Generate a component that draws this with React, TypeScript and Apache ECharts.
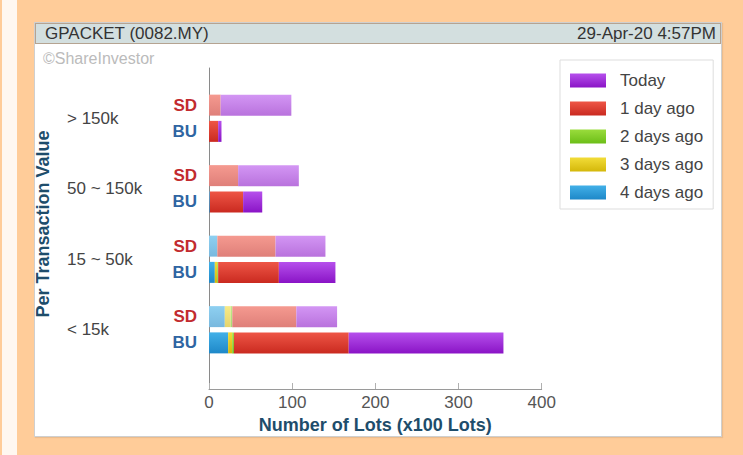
import React, { useEffect, useRef } from "react";
import * as echarts from "echarts";

const categories = ["> 150k", "50 ~ 150k", "15 ~ 50k", "< 15k"];
const legendNames = ["Today", "1 day ago", "2 days ago", "3 days ago", "4 days ago"];

// SD (sell down) values, x100 lots
const sdToday = [85, 73, 60, 49];
const sd1Day = [14, 35, 70, 77];
const sd2Days = [0, 0, 0, 2];
const sd3Days = [0, 0, 0, 7];
const sd4Days = [0, 0, 10, 19];

// BU (buy up) values, x100 lots
const buToday = [4, 23, 68, 186];
const bu1Day = [11, 40, 73, 138];
const bu2Days = [0, 0, 1, 2];
const bu3Days = [0, 0, 3, 5];
const bu4Days = [0, 1, 7, 23];

const xTicks = { min: 0, max: 400, interval: 100 };

const FONT = "'Liberation Sans', Arial, Helvetica, sans-serif";

const buPalette: Record<string, [string, string]> = {
  "Today": ["#B650EC", "#8A14C6"],
  "1 day ago": ["#EE5646", "#CA2A20"],
  "2 days ago": ["#9ADC3C", "#6CBE18"],
  "3 days ago": ["#F2DC38", "#D4B80A"],
  "4 days ago": ["#42B0E8", "#1E88C8"],
};

const sdPalette: Record<string, [string, string]> = {
  "Today": ["#D396F4", "#B972DD"],
  "1 day ago": ["#F59A90", "#DF7F79"],
  "2 days ago": ["#C2EA8A", "#A7D874"],
  "3 days ago": ["#F7EA88", "#E5D46C"],
  "4 days ago": ["#8ED0F1", "#78B8DE"],
};

function grad(pal: Record<string, [string, string]>, name: string) {
  const [a, b] = pal[name];
  return new echarts.graphic.LinearGradient(0, 0, 0, 1, [
    { offset: 0, color: a },
    { offset: 1, color: b },
  ]);
}

export default function App() {
  const ref = useRef<HTMLDivElement>(null);
  useEffect(() => {
    if (!ref.current) return;
    const chart = echarts.init(ref.current, null, { renderer: "svg" });

    const mk = (
      stack: string,
      name: string,
      data: number[],
      pal: Record<string, [string, string]>,
      label?: { text: string; color: string }
    ) => ({
      type: "bar",
      name,
      stack,
      data,
      xAxisIndex: 0,
      yAxisIndex: 0,
      barWidth: 21,
      barGap: "25%",
      itemStyle: { color: grad(pal, name) },
      label: label
        ? {
            show: true,
            position: "left",
            distance: 12,
            formatter: label.text,
            color: label.color,
            fontWeight: "bold",
            fontSize: 17,
            fontFamily: FONT,
          }
        : { show: false },
      emphasis: { disabled: true },
    });

    const sdLabel = { text: "SD", color: "#C22B2F" };
    const buLabel = { text: "BU", color: "#2F65A2" };

    const series = [
      mk("SD", "4 days ago", sd4Days, sdPalette, sdLabel),
      mk("SD", "3 days ago", sd3Days, sdPalette),
      mk("SD", "2 days ago", sd2Days, sdPalette),
      mk("SD", "1 day ago", sd1Day, sdPalette),
      mk("SD", "Today", sdToday, sdPalette),
      mk("BU", "4 days ago", bu4Days, buPalette, buLabel),
      mk("BU", "3 days ago", bu3Days, buPalette),
      mk("BU", "2 days ago", bu2Days, buPalette),
      mk("BU", "1 day ago", bu1Day, buPalette),
      mk("BU", "Today", buToday, buPalette),
    ];

    const option: any = {
      animation: false,
      textStyle: { fontFamily: FONT },
      graphic: [
        {
          type: "text",
          left: 45,
          top: 25,
          style: { text: "GPACKET (0082.MY)", fill: "#333", font: `17px ${FONT}` },
        },
        {
          type: "text",
          right: 27,
          top: 25,
          style: { text: "29-Apr-20 4:57PM", fill: "#333", font: `17px ${FONT}`, textAlign: "right" },
        },
        {
          type: "text",
          left: 43,
          top: 50,
          style: { text: "©ShareInvestor", fill: "#BBBBBB", font: `16px ${FONT}` },
        },
      ],
      legend: {
        left: 560,
        top: 60,
        orient: "vertical",
        backgroundColor: "#ffffff",
        borderColor: "#DDDDDD",
        borderWidth: 1,
        padding: [12, 10, 8, 10],
        itemWidth: 36,
        itemHeight: 14,
        itemGap: 11,
        icon: "rect",
        selectedMode: false,
        textStyle: { fontSize: 17, color: "#444", fontFamily: FONT, padding: [0, 0, 0, 9] },
        data: legendNames.map((n) => ({ name: n, itemStyle: { color: grad(buPalette, n) } })),
      },
      grid: [
        { left: 209, top: 83, bottom: 90, width: 332.7, containLabel: false },
        { left: 209, top: 68, bottom: 66, width: 332.7, containLabel: false },
      ],
      xAxis: [
        {
          type: "value",
          gridIndex: 0,
          min: xTicks.min,
          max: xTicks.max,
          interval: xTicks.interval,
          offset: 24,
          axisLine: { show: true, lineStyle: { color: "#9A9A9A", width: 1 } },
          axisTick: { show: true, inside: true, length: 6, lineStyle: { color: "#B0B0B0" } },
          splitLine: { show: false },
          axisLabel: { color: "#555", fontSize: 17, margin: 5, fontFamily: FONT },
          name: "Number of Lots (x100 Lots)",
          nameLocation: "middle",
          nameGap: 27,
          nameTextStyle: { fontSize: 18, fontWeight: "bold", color: "#1E4D6B", fontFamily: FONT },
        },
        { type: "value", gridIndex: 1, show: false, min: 0, max: 1 },
      ],
      yAxis: [
        {
          type: "category",
          gridIndex: 0,
          data: categories,
          inverse: true,
          axisLine: { show: false },
          axisTick: { show: false },
          splitLine: { show: false },
          axisLabel: { align: "left", margin: 142, fontSize: 17, color: "#444", fontFamily: FONT },
          name: "Per Transaction Value",
          nameLocation: "middle",
          nameRotate: 90,
          nameGap: 157,
          nameTextStyle: { fontSize: 18, fontWeight: "bold", color: "#1E4D6B", fontFamily: FONT },
        },
        {
          type: "value",
          gridIndex: 1,
          min: 0,
          max: 1,
          axisLine: { show: true, lineStyle: { color: "#8A8A8A", width: 1 } },
          axisTick: { show: false },
          axisLabel: { show: false },
          splitLine: { show: false },
        },
      ],
      series,
    };

    chart.setOption(option);
    return () => chart.dispose();
  }, []);

  return (
    <div
      style={{
        position: "fixed",
        left: 0,
        top: 0,
        width: 743,
        height: 455,
        background: "#FFCC99",
        overflow: "hidden",
      }}
    >
      <div style={{ position: "absolute", left: 2, top: 0, width: 15, height: 455, background: "#FFF7F0" }} />
      <div
        style={{
          position: "absolute",
          left: 34,
          top: 22,
          width: 686,
          height: 413,
          background: "#ffffff",
          border: "1px solid #CFCFCF",
          boxShadow: "1px 1px 1px rgba(0,0,0,0.08)",
        }}
      />
      <div
        style={{
          position: "absolute",
          left: 35,
          top: 23,
          width: 684,
          height: 19,
          background: "#D3DFDF",
          border: "1px solid #B5A391",
        }}
      />
      <div ref={ref} style={{ position: "absolute", left: 0, top: 0, width: 743, height: 455 }} />
    </div>
  );
}
